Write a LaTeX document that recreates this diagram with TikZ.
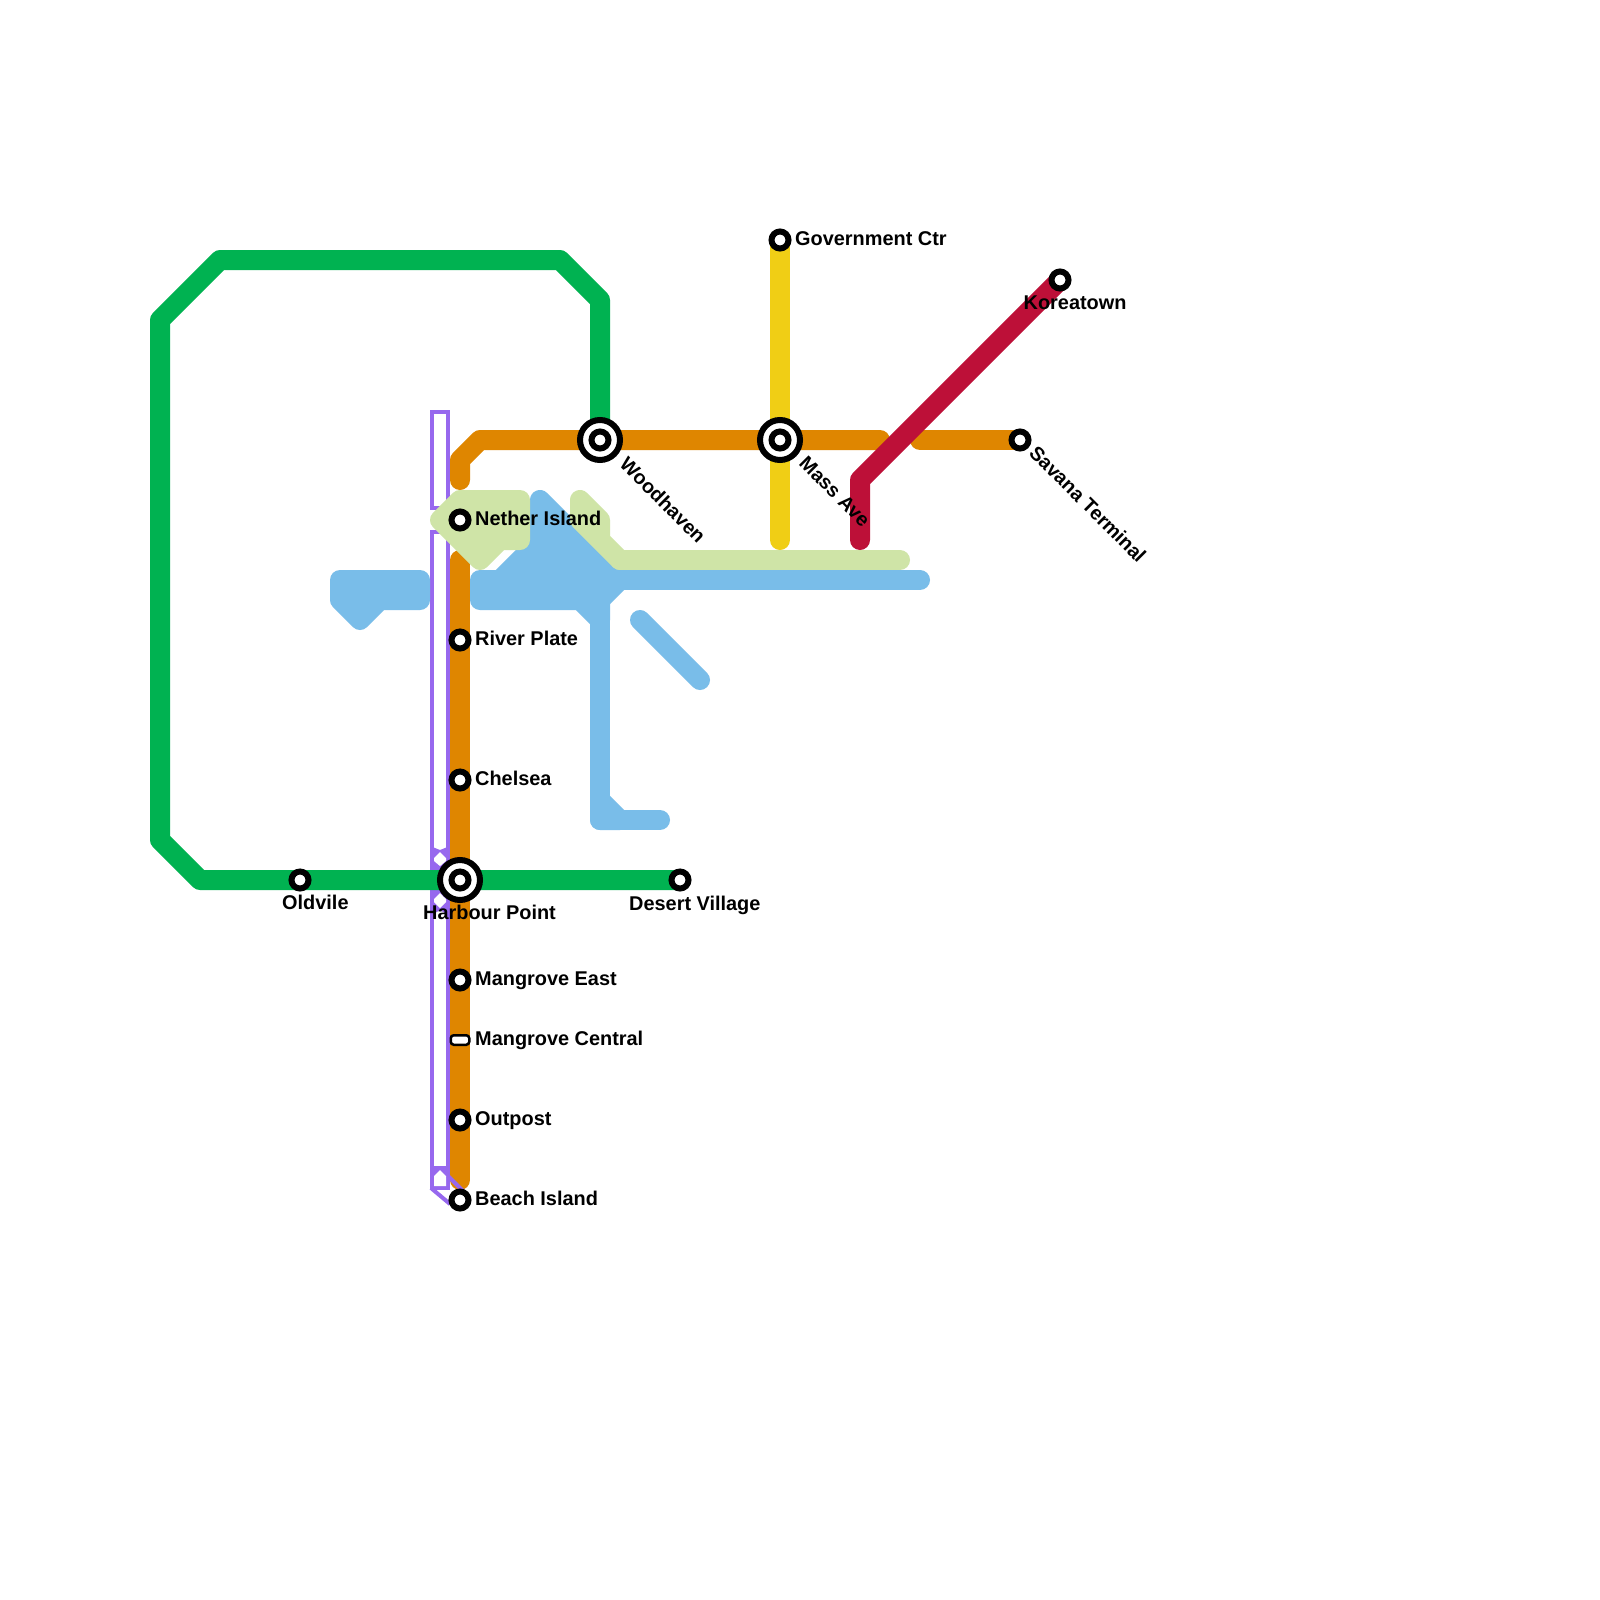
\documentclass[tikz,border=0pt]{standalone}
\usepackage{fontspec}
\setmainfont{Liberation Sans}
\definecolor{cgreen}{HTML}{00B251}
\definecolor{corange}{HTML}{DF8600}
\definecolor{cyellow}{HTML}{F0CE15}
\definecolor{cred}{HTML}{BD1038}
\definecolor{cblue}{HTML}{79BDE9}
\definecolor{clime}{HTML}{CFE4A7}
\definecolor{cpurple}{HTML}{9768EE}
\tikzset{
  route/.style={line width=20pt,line cap=round,line join=round},
  area/.style={line width=20pt,line join=round,draw=#1,fill=#1},
  tunnel/.style={draw=cpurple,line width=4pt,fill=white},
  stn/.style={circle,draw=black,fill=white,line width=6pt,minimum size=17pt,inner sep=0pt,outer sep=0pt},
  hub/.style={circle,draw=black,fill=white,line width=6pt,minimum size=40pt,inner sep=0pt,outer sep=0pt},
  pill/.style={rectangle,rounded corners=3pt,draw=black,fill=white,line width=2.5pt,minimum width=18.5pt,minimum height=9.5pt,inner sep=0pt,outer sep=0pt},
  lbl/.style={font=\fontsize{19.9}{24}\selectfont\bfseries,text=black,inner sep=0pt,anchor=base west},
  lbld/.style={lbl,rotate=-45,font=\fontsize{19.7}{24}\selectfont\bfseries}
}
\begin{document}
\begin{tikzpicture}[x=1pt,y=-1pt]
\useasboundingbox (0,0) rectangle (1600,1600);
\fill[white] (0,0) rectangle (1600,1600);
% station positions
\coordinate (nether) at (460,520);
\coordinate (river) at (460,640);
\coordinate (chelsea) at (460,780);
\coordinate (harbour) at (460,880);
\coordinate (mangE) at (460,980);
\coordinate (mangC) at (460,1040);
\coordinate (outpost) at (460,1120);
\coordinate (beach) at (460,1200);
\coordinate (oldvile) at (300,880);
\coordinate (desert) at (680,880);
\coordinate (wood) at (600,440);
\coordinate (mass) at (780,440);
\coordinate (savana) at (1020,440);
\coordinate (gov) at (780,240);
\coordinate (korea) at (1060,280);
% purple tunnel
\draw[tunnel] (432,412) rectangle (448,508);
\draw[tunnel] (432,532) rectangle (448,1188);
\fill[cpurple] (430,846) -- (440,850) -- (450,846) -- (450,916) -- (440,910) -- (430,916) -- cycle;
\fill[white] (440,852) -- (446,858) -- (446,861) -- (440,866) -- (434,861) -- (434,858) -- cycle;
\fill[white] (440,893) -- (446,899) -- (446,902) -- (440,908) -- (434,902) -- (434,899) -- cycle;
\fill[cpurple] (430,1166) -- (450,1166) -- (450,1190) -- (430,1190) -- cycle;
\fill[white] (440,1170) -- (446,1176) -- (446,1186) -- (434,1186) -- (434,1176) -- cycle;
% orange
\draw[route,corange] (460,480) -- (460,460) -- (480,440) -- (wood) -- (mass) -- (880,440);
\draw[route,corange] (920,440) -- (savana);
\draw[route,corange] (460,560) -- (river) -- (chelsea) -- (harbour) -- (mangE) -- (mangC) -- (outpost) -- (460,1180);
\draw[cpurple,line width=4pt] (431,1188) -- (450,1204);
\draw[cpurple,line width=4pt] (448,1176) -- (466,1194);
% blue
\draw[area=cblue] (340,580) -- (420,580) -- (420,600) -- (380,600) -- (360,620) -- (340,600) -- cycle;
\draw[area=cblue] (540,500) -- (620,580) -- (600,600) -- (480,600) -- (480,580) -- (500,580) -- (540,540) -- cycle;
\draw[route,cblue] (620,580) -- (920,580);
\draw[area=cblue] (580,600) -- (600,620) -- (600,600) -- cycle;
\draw[route,cblue] (600,600) -- (600,820) -- (660,820);
\draw[area=cblue] (600,800) -- (620,820) -- (600,820) -- cycle;
\draw[route,cblue] (640,620) -- (700,680);
% lime
\draw[area=clime] (440,520) -- (460,500) -- (520,500) -- (520,540) -- (500,540) -- (480,560) -- cycle;
\draw[area=clime] (580,500) -- (600,520) -- (600,540) -- (620,560) -- (580,520) -- cycle;
\draw[route,clime] (620,560) -- (900,560);
% green, yellow, red
\draw[route,cgreen] (desert) -- (harbour) -- (oldvile) -- (200,880) -- (160,840) -- (160,320) -- (220,260) -- (560,260) -- (600,300) -- (wood);
\draw[route,cyellow] (gov) -- (mass) -- (780,540);
\draw[route,cred] (860,540) -- (860,480) -- (korea);
% stations
\node[stn] (nNether) at (nether) {};
\node[stn] (nRiver) at (river) {};
\node[stn] (nChelsea) at (chelsea) {};
\node[hub] (nHarbourO) at (harbour) {};
\node[stn] (nHarbour) at (harbour) {};
\node[stn] (nMangE) at (mangE) {};
\node[pill] (nMangC) at (mangC) {};
\node[stn] (nOutpost) at (outpost) {};
\node[stn] (nBeach) at (beach) {};
\node[stn] (nOldvile) at (oldvile) {};
\node[stn] (nDesert) at (desert) {};
\node[hub] (nWoodO) at (wood) {};
\node[stn] (nWood) at (wood) {};
\node[hub] (nMassO) at (mass) {};
\node[stn] (nMass) at (mass) {};
\node[stn] (nSavana) at (savana) {};
\node[stn] (nGov) at (gov) {};
\node[stn] (nKorea) at (korea) {};
% labels
\node[lbl] (tNether) at (475,525) {Nether Island};
\node[lbl] (tRiver) at (475,645) {River Plate};
\node[lbl] (tChelsea) at (475,785) {Chelsea};
\node[lbl] (tMangE) at (475,985) {Mangrove East};
\node[lbl] (tMangC) at (475,1045) {Mangrove Central};
\node[lbl] (tOutpost) at (475,1125) {Outpost};
\node[lbl] (tBeach) at (475,1205) {Beach Island};
\node[lbl] (tGov) at (795,245) {Government Ctr};
\node[lbl] (tOldvile) at (282,909.5) {Oldvile};
\node[lbl] (tHarbour) at (423,919.5) {Harbour Point};
\node[lbl] (tDesert) at (629,910) {Desert Village};
\node[lbl] (tKorea) at (1023.5,309) {Koreatown};
\node[lbld] (tWood) at (618.5,465.5) {Woodhaven};
\node[lbld] (tMass) at (798,464.5) {Mass Ave};
\node[lbld] (tSavana) at (1028,454) {Savana Terminal};
\end{tikzpicture}
\end{document}
